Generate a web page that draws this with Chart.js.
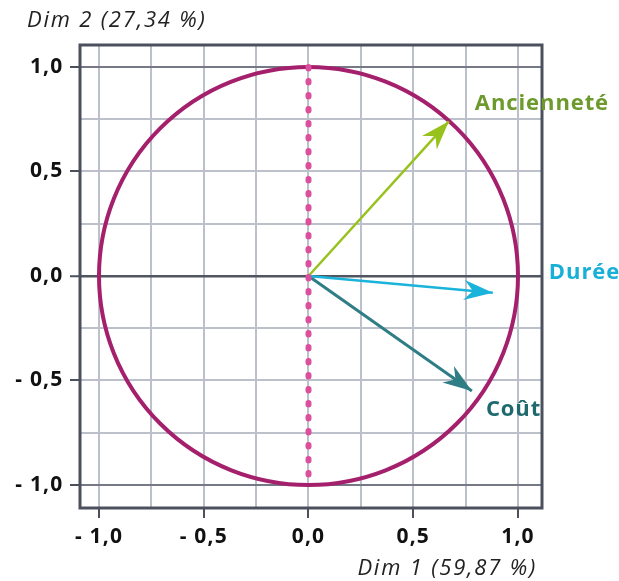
<!DOCTYPE html>
<html>
<head>
<meta charset="utf-8">
<script src="https://cdn.jsdelivr.net/npm/chart.js@4"></script>
<style>
  html, body { margin: 0; padding: 0; background: #fff; }
  canvas { display: block; }
</style>
</head>
<body>
<canvas id="chart" width="619" height="581"></canvas>
<script>
const gridValues = [-1, -0.75, -0.5, -0.25, 0, 0.25, 0.5, 0.75, 1];
const tickValues = [-1, -0.5, 0, 0.5, 1];
const tickLabels = ['- 1,0', '- 0,5', '0,0', '0,5', '1,0'];
const variables = ['Ancienneté', 'Durée', 'Coût'];
const dim1 = [0.67, 0.88, 0.78];
const dim2 = [0.74, -0.08, -0.55];
const axisTitles = ['Dim 1 (59,87 %)', 'Dim 2 (27,34 %)'];
const circleRadius = 1;
const zeroLineY = [1, -1];

// styles
const arrowColors = ['#97c21e', '#1ab3da', '#2f7d85'];
const labelColors = ['#6c9a2c', '#19afd7', '#1f696e'];
const labelOffsets = [[26, -18], [56, -20], [14, 19]];
const lineWidths = [2.5, 2.5, 3];
const tickFont = { family: 'Open Sans', size: 21, weight: '700' };

function tickLabel(v) {
  const i = tickValues.indexOf(v);
  return i >= 0 ? tickLabels[i] : '';
}

const datasets = [{
  data: zeroLineY.map(y => ({ x: 0, y })),
  showLine: true,
  borderColor: '#dc4f9d',
  borderWidth: 6,
  borderDash: [1.5, 12.5],
  borderCapStyle: 'round',
  pointRadius: 0
}];
variables.forEach((name, i) => {
  datasets.push({
    label: name,
    data: [{ x: 0, y: 0 }, { x: dim1[i], y: dim2[i] }],
    showLine: true,
    borderColor: arrowColors[i],
    borderWidth: lineWidths[i],
    pointRadius: 0,
    isArrow: true,
    arrowIndex: i
  });
});

const decor = {
  id: 'decor',
  beforeDraw(chart) {
    // espacement des chiffres des graduations
    chart.ctx.letterSpacing = '1.2px';
  },
  beforeDatasetsDraw(chart) {
    const { ctx, chartArea: a, scales: { x, y } } = chart;
    ctx.save();
    // cadre
    ctx.strokeStyle = '#4b505c';
    ctx.lineWidth = 3;
    ctx.strokeRect(a.left, a.top, a.right - a.left, a.bottom - a.top);
    // cercle
    const cx = x.getPixelForValue(0), cy = y.getPixelForValue(0);
    const rx = x.getPixelForValue(circleRadius) - cx;
    const ry = cy - y.getPixelForValue(circleRadius);
    ctx.beginPath();
    ctx.ellipse(cx, cy, rx, ry, 0, 0, Math.PI * 2);
    ctx.strokeStyle = '#a5206c';
    ctx.lineWidth = 4;
    ctx.stroke();
    ctx.restore();
  },
  afterDatasetsDraw(chart) {
    const { ctx, chartArea: a } = chart;
    ctx.save();
    chart.data.datasets.forEach((ds, di) => {
      if (!ds.isArrow) return;
      const i = ds.arrowIndex;
      const pts = chart.getDatasetMeta(di).data;
      const p0 = pts[0], p1 = pts[1];
      const ang = Math.atan2(p1.y - p0.y, p1.x - p0.x);
      const L = 29, W = 10, N = 9;
      ctx.save();
      ctx.translate(p1.x, p1.y);
      ctx.rotate(ang);
      ctx.beginPath();
      ctx.moveTo(0, 0);
      ctx.lineTo(-L, -W);
      ctx.lineTo(-L + N, 0);
      ctx.lineTo(-L, W);
      ctx.closePath();
      ctx.fillStyle = arrowColors[i];
      ctx.fill();
      ctx.restore();
      // étiquette
      ctx.font = '700 22px "Open Sans"';
      ctx.letterSpacing = '0.9px';
      ctx.fillStyle = labelColors[i];
      ctx.textAlign = 'left';
      ctx.textBaseline = 'middle';
      ctx.fillText(variables[i], p1.x + labelOffsets[i][0], p1.y + labelOffsets[i][1]);
    });
    // titres des axes
    ctx.font = 'italic 400 22px "Open Sans"';
    ctx.letterSpacing = '1.8px';
    ctx.fillStyle = '#222';
    ctx.textBaseline = 'middle';
    ctx.textAlign = 'right';
    ctx.fillText(axisTitles[0], a.right - 5, a.bottom + 61);
    ctx.textAlign = 'left';
    ctx.fillText(axisTitles[1], a.left - 53, a.top - 24);
    ctx.restore();
  },
  afterDraw(chart) {
    chart.ctx.letterSpacing = '0px';
  }
};

const buildTicks = s => { s.ticks = gridValues.map(v => ({ value: v })); };

new Chart(document.getElementById('chart'), {
  type: 'scatter',
  data: { datasets },
  options: {
    responsive: false,
    animation: false,
    layout: { padding: { top: 45, right: 77, left: 0, bottom: 0 } },
    plugins: { legend: { display: false }, tooltip: { enabled: false } },
    scales: {
      x: {
        type: 'linear', min: -1.0907, max: 1.1146,
        afterBuildTicks: buildTicks,
        afterFit: s => { s.height = 73; },
        border: { display: false },
        grid: {
          color: '#bcc0cb', lineWidth: 2, tickLength: 10, tickWidth: 2,
          tickColor: c => tickValues.includes(c.tick.value) ? '#4b505c' : 'rgba(0,0,0,0)'
        },
        ticks: { callback: tickLabel, font: tickFont, color: '#111', padding: 6, autoSkip: false, maxRotation: 0 }
      },
      y: {
        type: 'linear', min: -1.11, max: 1.105,
        afterBuildTicks: buildTicks,
        afterFit: s => { s.width = 80; },
        border: { display: false },
        grid: {
          color: c => c.tick.value === 0 ? '#50555f' : (Math.abs(c.tick.value) === 1 ? '#747985' : '#bcc0cb'),
          lineWidth: c => c.tick.value === 0 ? 2.5 : 2,
          tickLength: 10, tickWidth: 2,
          tickColor: c => tickValues.includes(c.tick.value) ? '#4b505c' : 'rgba(0,0,0,0)'
        },
        ticks: { callback: tickLabel, font: tickFont, color: '#111', padding: 6.5, autoSkip: false }
      }
    }
  },
  plugins: [decor]
});
</script>
</body>
</html>
